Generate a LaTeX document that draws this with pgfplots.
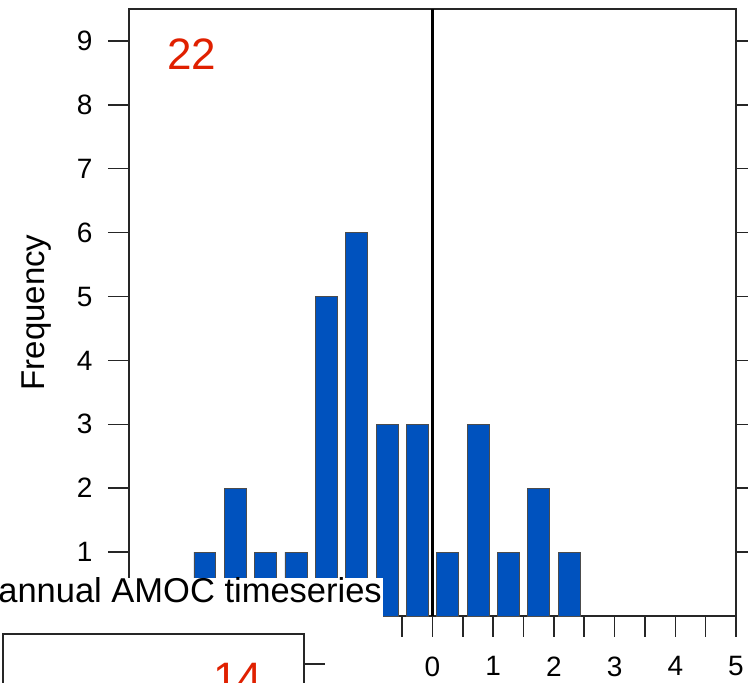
\documentclass[border=0pt]{standalone}
\usepackage{pgfplots}
\pgfplotsset{compat=1.18}
\usepackage{fontspec}
\setmainfont{Liberation Sans}
\definecolor{barblue}{RGB}{0,82,190}
\definecolor{numred}{RGB}{224,32,0}
\begin{document}
\begin{tikzpicture}[x=1pt,y=1pt]
\begin{axis}[
  at={(129pt,67pt)}, anchor=south west,
  scale only axis, width=607pt, height=607pt,
  xmin=-5, xmax=5, ymin=0, ymax=9.5,
  axis line style={line width=1.5pt, black!85},
  xtick={-5,-4,...,5},
  minor xtick={-4.5,-3.5,...,4.5},
  ytick={1,2,...,9},
  xtick pos=lower, ytick pos=both,
  tick align=outside,
  major tick length=21pt, minor tick length=21pt,
  every tick/.style={line width=1.5pt, black!85},
  every minor tick/.style={line width=1.5pt, black!85},
  /pgf/number format/assume math mode=true,
  ticklabel style={font=\fontsize{28}{28}\selectfont},
  xticklabel style={yshift=-16pt},
  yticklabel style={xshift=-12pt},
  ylabel={Frequency},
  ylabel style={font=\fontsize{33}{33}\selectfont, at={(rel axis cs:-0.152,0.5)}, anchor=center, rotate=0},
  clip=false,
]
\addplot[ybar, bar width=0.36, fill=barblue, draw=black!70, line width=0.6pt] coordinates {
  (-3.75,1) (-3.25,2) (-2.75,1) (-2.25,1) (-1.75,5) (-1.25,6) (-0.75,3) (-0.25,3)
  (0.25,1) (0.75,3) (1.25,1) (1.75,2) (2.25,1)
};
\addplot[black, line width=2.3pt] coordinates {(0,0) (0,9.5)};
\end{axis}
\node[text=numred, font=\fontsize{44}{44}\selectfont] at (192,629) {22};
% overlapping neighbour panel
\fill[white] (-5,-5) rectangle (383,105);
\node[anchor=base east, inner sep=0pt, font=\fontsize{34.5}{34.5}\selectfont] at (382,80) {annual AMOC timeseries};
\draw[line width=1.5pt, black!85] (3,-10) -- (3,49) -- (304,49) -- (304,-10);
\draw[line width=1.5pt, black!85] (304,19) -- (325,19);
\node[anchor=base, inner sep=0pt, text=numred, font=\fontsize{44}{44}\selectfont] at (238,-11) {14};
\pgfresetboundingbox
\path[use as bounding box] (0,0) rectangle (748,683);
\end{tikzpicture}
\end{document}
